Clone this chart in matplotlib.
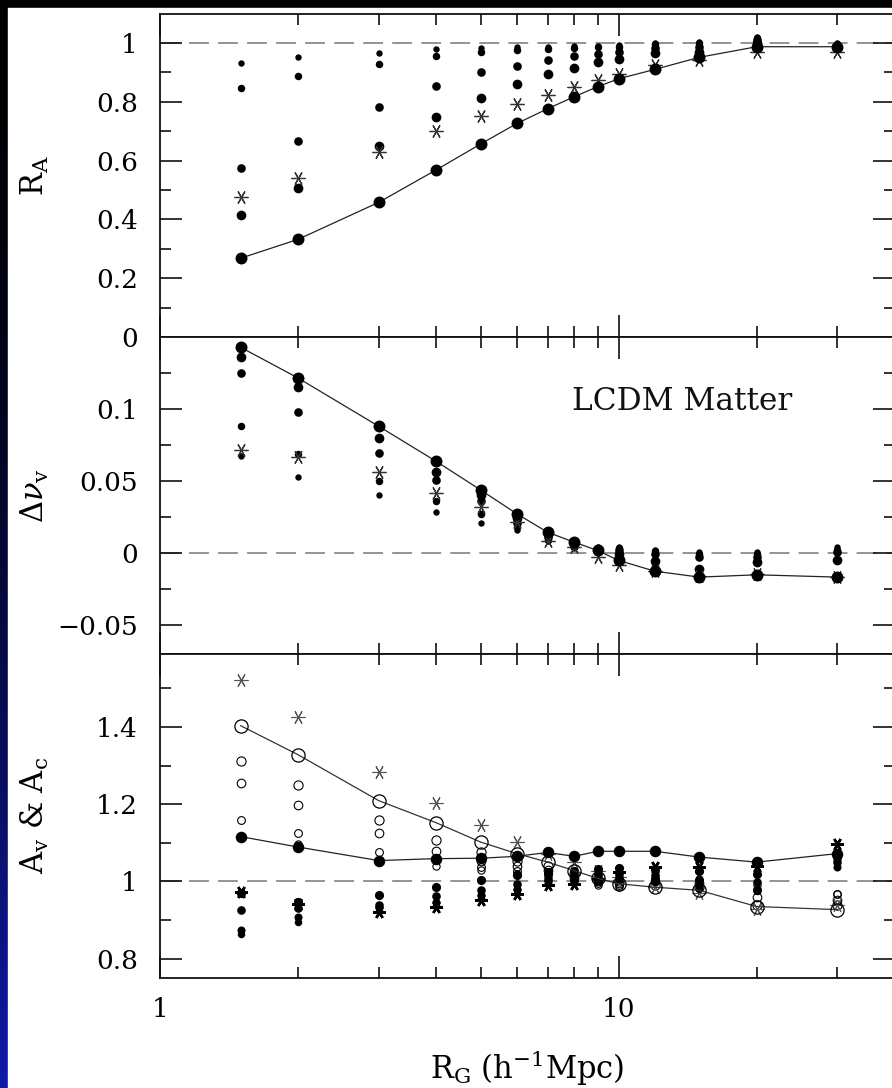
import numpy as np
import matplotlib
matplotlib.use('Agg')
import matplotlib.pyplot as plt
from matplotlib.patches import Rectangle
from matplotlib.ticker import FixedLocator, FuncFormatter, NullFormatter

plt.rcParams['font.family'] = ['DejaVu Serif']
plt.rcParams['mathtext.fontset'] = 'dejavuserif'

# smoothing radii
rg = [1.5, 2, 3, 4, 5, 6, 7, 8, 9, 10, 12, 15, 20, 30]

# R_A : main curve, asterisks and the four smaller-dot series
ra_main = [0.268, 0.332, 0.458, 0.568, 0.656, 0.726, 0.776, 0.817, 0.851, 0.878, 0.910, 0.951, 0.987, 0.987]
ra_star = [0.475, 0.542, 0.630, 0.701, 0.752, 0.793, 0.823, 0.851, 0.874, 0.895, 0.925, 0.942, 0.970, 0.970]
ra_d1 = [0.930, 0.951, 0.965, 0.979, 0.984, 0.986, 0.987, 0.988, 0.990, 0.993, 1.000, 1.004, 1.021, 0.998]
ra_d2 = [0.845, 0.888, 0.929, 0.956, 0.970, 0.976, 0.980, 0.982, 0.985, 0.987, 0.995, 0.998, 1.015, 0.995]
ra_d3 = [0.575, 0.668, 0.783, 0.854, 0.900, 0.923, 0.942, 0.956, 0.962, 0.968, 0.981, 0.987, 1.010, 0.993]
ra_d4 = [0.415, 0.508, 0.651, 0.749, 0.814, 0.860, 0.895, 0.916, 0.934, 0.944, 0.965, 0.970, 0.998, 0.990]

# delta nu_v
nu_main = [0.1428, 0.1215, 0.0879, 0.0636, 0.0437, 0.0271, 0.0143, 0.0074, 0.0016, -0.0053, -0.0128, -0.0169, -0.0153, -0.0169]
nu_star = [0.0717, 0.0664, 0.0560, 0.0414, 0.0317, 0.0213, 0.0085, 0.0039, -0.0030, -0.0088, -0.0130, -0.0160, -0.0150, -0.0170]
nu_d1 = [0.0671, 0.0530, 0.0403, 0.0287, 0.0210, 0.0155, 0.0080, 0.0030, 0.0040, 0.0040, 0.0020, 0.0006, 0.0006, 0.0039]
nu_d2 = [0.0879, 0.0688, 0.0497, 0.0363, 0.0270, 0.0180, 0.0090, 0.0040, 0.0030, 0.0030, 0.0010, -0.0010, -0.0010, 0.0020]
nu_d3 = [0.1247, 0.0977, 0.0694, 0.0509, 0.0360, 0.0210, 0.0110, 0.0050, 0.0020, 0.0016, -0.0010, -0.0028, -0.0030, 0.0006]
nu_d4 = [0.1358, 0.1150, 0.0799, 0.0560, 0.0400, 0.0240, 0.0130, 0.0060, 0.0010, -0.0009, -0.0060, -0.0113, -0.0065, -0.0053]

# A_c (open symbols)
ac_main = [1.403, 1.328, 1.209, 1.152, 1.102, 1.072, 1.050, 1.028, 1.008, 0.994, 0.985, 0.977, 0.935, 0.927]
ac_star = [1.522, 1.425, 1.283, 1.204, 1.145, 1.103, 1.072, 1.050, 1.028, 1.011, 0.985, 0.969, 0.929, 0.938]
ac_c1 = [1.116, 1.096, 1.054, 1.039, 1.030, 1.020, 1.015, 1.000, 0.990, 0.985, 1.010, 1.005, 0.990, 0.968]
ac_c2 = [1.160, 1.125, 1.076, 1.059, 1.037, 1.028, 1.020, 1.005, 0.995, 0.990, 1.005, 1.000, 0.977, 0.968]
ac_c3 = [1.254, 1.199, 1.125, 1.080, 1.054, 1.041, 1.030, 1.010, 1.000, 0.995, 1.000, 0.995, 0.960, 0.951]
ac_c4 = [1.311, 1.250, 1.158, 1.106, 1.076, 1.054, 1.040, 1.020, 1.005, 1.000, 0.990, 0.985, 0.940, 0.938]

# A_v (filled symbols)
av_main = [1.116, 1.089, 1.054, 1.059, 1.060, 1.065, 1.075, 1.065, 1.078, 1.078, 1.078, 1.063, 1.050, 1.072]
av_star = [0.972, 0.941, 0.921, 0.934, 0.951, 0.968, 0.990, 0.994, 1.005, 1.024, 1.037, 1.037, 1.041, 1.097]
av_d1 = [0.865, 0.895, 0.925, 0.940, 0.958, 0.975, 0.993, 0.998, 1.000, 1.003, 0.998, 0.980, 0.975, 1.055]
av_d2 = [0.873, 0.908, 0.935, 0.947, 0.964, 0.981, 0.998, 1.003, 1.004, 1.008, 1.003, 0.985, 0.981, 1.037]
av_d3 = [0.925, 0.930, 0.940, 0.961, 0.977, 0.994, 1.007, 1.016, 1.020, 1.020, 1.016, 1.004, 0.998, 1.050]
av_d4 = [0.970, 0.947, 0.966, 0.985, 1.003, 1.016, 1.024, 1.028, 1.033, 1.034, 1.033, 1.028, 1.020, 1.063]

W, H = 892, 1088
fig = plt.figure(figsize=(W / 100, H / 100), dpi=100)

# slide backdrop: dark strip on top and left, fading to blue
bg = fig.add_axes([0, 0, 1, 1], zorder=-5)
shade = np.linspace(0, 1, 256) ** 1.7
strip = np.stack([0.06 * shade, 0.10 * shade, 0.66 * shade], axis=1)[:, None, :]
bg.imshow(strip, aspect='auto', extent=[0, 1, 0, 1], origin='upper')
bg.add_patch(Rectangle((8 / W, 0), 1, 1 - 8 / H, color='white'))
bg.set_xlim(0, 1)
bg.set_ylim(0, 1)
bg.axis('off')

left, right = 160, 894.7


def box(top, bottom):
    return [left / W, 1 - bottom / H, (right - left) / W, (bottom - top) / H]


ax1 = fig.add_axes(box(13.5, 337))
ax2 = fig.add_axes(box(337, 653.5))
ax3 = fig.add_axes(box(653.5, 978))

ylab = lambda v, p: f'{v:g}'.replace('-', '\u2212')


def style(ax, ylim, major, minor):
    ax.set_xscale('log')
    ax.set_xlim(1, 40)
    ax.set_ylim(*ylim)
    ax.yaxis.set_major_locator(FixedLocator(major))
    ax.yaxis.set_minor_locator(FixedLocator(minor))
    ax.yaxis.set_major_formatter(FuncFormatter(ylab))
    ax.xaxis.set_major_formatter(FuncFormatter(lambda v, p: f'{v:g}'))
    ax.xaxis.set_minor_formatter(NullFormatter())
    ax.tick_params(which='both', direction='in', top=True, right=True,
                   width=1.2, labelsize=19, color='#111111')
    ax.tick_params(which='major', length=15.5)
    ax.tick_params(which='minor', length=8)
    ax.tick_params(axis='y', pad=16)
    ax.tick_params(axis='x', pad=14)
    for s in ax.spines.values():
        s.set_linewidth(1.3)
        s.set_color('#111111')


style(ax1, (0, 1.1), [0, 0.2, 0.4, 0.6, 0.8, 1.0], [0.1, 0.3, 0.5, 0.7, 0.9])
style(ax2, (-0.07, 0.15), [-0.05, 0, 0.05, 0.1], [-0.025, 0.025, 0.075, 0.125])
style(ax3, (0.75, 1.59), [0.8, 1.0, 1.2, 1.4], [0.9, 1.1, 1.3, 1.5])
ax1.tick_params(labelbottom=False)
ax2.tick_params(labelbottom=False)

dash = (0, (13, 6))
ax1.axhline(1, color='#777777', lw=1.1, ls=dash, zorder=1)
ax2.axhline(0, color='#777777', lw=1.1, ls=dash, zorder=1)
ax3.axhline(1, color='#777777', lw=1.1, ls=dash, zorder=1)

star = (6, 2, 30)
sizes = [4.6, 5.4, 6.2, 7.0]

# top: R_A
for vals, ms in zip([ra_d1, ra_d2, ra_d3, ra_d4], sizes):
    ax1.plot(rg, vals, 'o', color='black', ms=ms, mew=0, zorder=3)
ax1.plot(rg, ra_star, ls='none', marker=star, ms=10, color='#333333', mew=0.9, zorder=3)
ax1.plot(rg, ra_main, '-o', color='#222222', mfc='black', mec='black', lw=0.9, ms=8.6, mew=0, zorder=4)

# middle: delta nu_v
for vals, ms in zip([nu_d1, nu_d2, nu_d3, nu_d4], sizes):
    ax2.plot(rg, vals, 'o', color='black', ms=ms, mew=0, zorder=3)
ax2.plot(rg, nu_star, ls='none', marker=star, ms=10, color='#333333', mew=0.9, zorder=3)
ax2.plot(rg, nu_main, '-o', color='#222222', mfc='black', mec='black', lw=0.9, ms=8.6, mew=0, zorder=4)
ax2.text(0.7105, 0.769, 'LCDM Matter', transform=ax2.transAxes,
         ha='center', va='baseline', fontsize=22.5, color='#111111')

# bottom: A_c open, A_v filled
for vals, ms in zip([ac_c1, ac_c2, ac_c3, ac_c4], [5.2, 5.6, 6.2, 6.6]):
    ax3.plot(rg, vals, 'o', mfc='none', mec='black', ms=ms, mew=0.8, zorder=3)
ax3.plot(rg, ac_star, ls='none', marker=star, ms=10, color='#555555', mew=0.8, zorder=3)
ax3.plot(rg, ac_main, '-o', color='#333333', mfc='none', mec='black', lw=0.9, ms=9.5, mew=0.9, zorder=4)
for vals, ms in zip([av_d1, av_d2, av_d3, av_d4], [5.4, 5.8, 6.2, 6.6]):
    ax3.plot(rg, vals, 'o', color='black', ms=ms, mew=0, zorder=3)
ax3.plot(rg, av_star, ls='none', marker=star, ms=9, color='black', mew=1.8, zorder=3)
ax3.plot(rg, av_main, '-o', color='#222222', mfc='black', mec='black', lw=0.9, ms=8.3, mew=0, zorder=4)

ax1.set_ylabel(r'$\mathrm{R_A}$', fontsize=22)
ax2.set_ylabel(r'$\Delta\nu_{\mathrm{v}}$', fontsize=22)
ax3.set_ylabel(r'$\mathrm{A_v}$ & $\mathrm{A_c}$', fontsize=22)
for ax in (ax1, ax2, ax3):
    ax.yaxis.label.set_va('center')
    ax.yaxis.set_label_coords(-0.170, 0.5)

ax3.set_xlabel(r'$\mathrm{R_G}$ (h$^{-1}$Mpc)', fontsize=22)
ax3.xaxis.set_label_coords(0.5, -0.216)

fig.savefig('out.png', dpi=100)
